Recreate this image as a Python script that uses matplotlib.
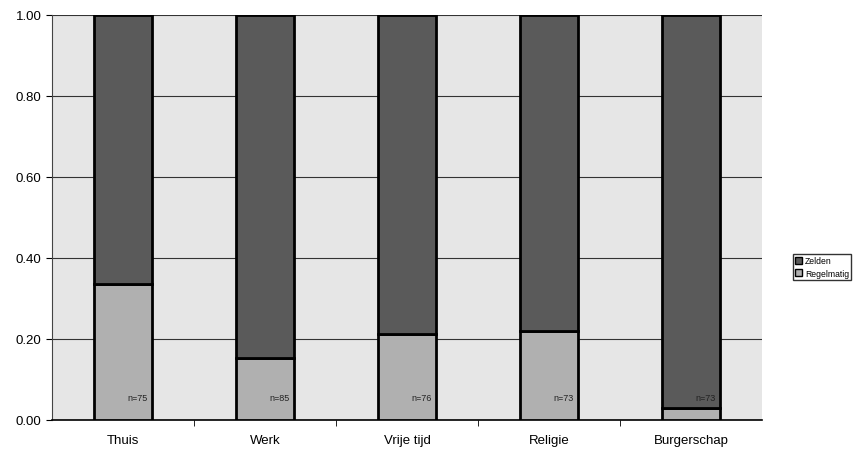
import matplotlib.pyplot as plt
from matplotlib.patches import Patch
import numpy as np

plt.rcParams['font.family'] = ['Liberation Sans', 'DejaVu Sans']

# data
categories = ['Thuis', 'Werk', 'Vrije tijd', 'Religie', 'Burgerschap']
regelmatig = [0.335, 0.153, 0.213, 0.220, 0.030]
zelden = [1 - v for v in regelmatig]
n_labels = ['n=75', 'n=85', 'n=76', 'n=73', 'n=73']

dark = '#5a5a5a'
light = '#b0b0b0'

fig = plt.figure(figsize=(8.54, 4.56), dpi=100)
ax = fig.add_axes([52 / 854, 35 / 456, 710 / 854, 405 / 456])
ax.set_facecolor('#e6e6e6')

x = np.arange(len(categories))
w = 0.41
ax.bar(x, regelmatig, w, color=light, edgecolor='black', linewidth=2, zorder=3)
ax.bar(x, zelden, w, bottom=regelmatig, color=dark, edgecolor='black',
       linewidth=2, zorder=3)

for xi, lab in zip(x, n_labels):
    ax.text(xi + w / 2 - 0.03, 0.055, lab, ha='right', va='center', fontsize=6.5,
            color='#222222', zorder=4)

ax.set_xlim(-0.5, len(categories) - 0.5)
ax.set_ylim(0, 1)
ax.set_yticks(np.arange(0, 1.01, 0.2))
ax.set_yticklabels([f'{v:.2f}' for v in np.arange(0, 1.01, 0.2)], fontsize=9.5)
ax.yaxis.grid(True, color='#333333', linewidth=0.8, zorder=1)
ax.set_xticks(x)
ax.set_xticklabels(categories, fontsize=9.5)
ax.tick_params(axis='x', length=0, pad=10)
ax.set_xticks(np.arange(0.5, len(categories) - 0.5, 1), minor=True)
ax.tick_params(axis='x', which='minor', length=4, direction='out')
ax.tick_params(axis='y', length=4, direction='out')
for s in ['top', 'right']:
    ax.spines[s].set_visible(False)
ax.spines['left'].set_color('#444444')
ax.spines['bottom'].set_linewidth(1.2)

handles = [Patch(facecolor=dark, edgecolor='black', linewidth=1, label='Zelden'),
           Patch(facecolor=light, edgecolor='black', linewidth=1, label='Regelmatig')]
fig.legend(handles=handles, loc='center left',
           bbox_to_anchor=(791 / 854, 1 - 268 / 456), fontsize=6.2, frameon=True,
           edgecolor='black', fancybox=False, handlelength=0.8, handleheight=0.8,
           handletextpad=0.3, borderpad=0.3, borderaxespad=0.2, labelspacing=0.4)

fig.savefig('out.png', dpi=100)
